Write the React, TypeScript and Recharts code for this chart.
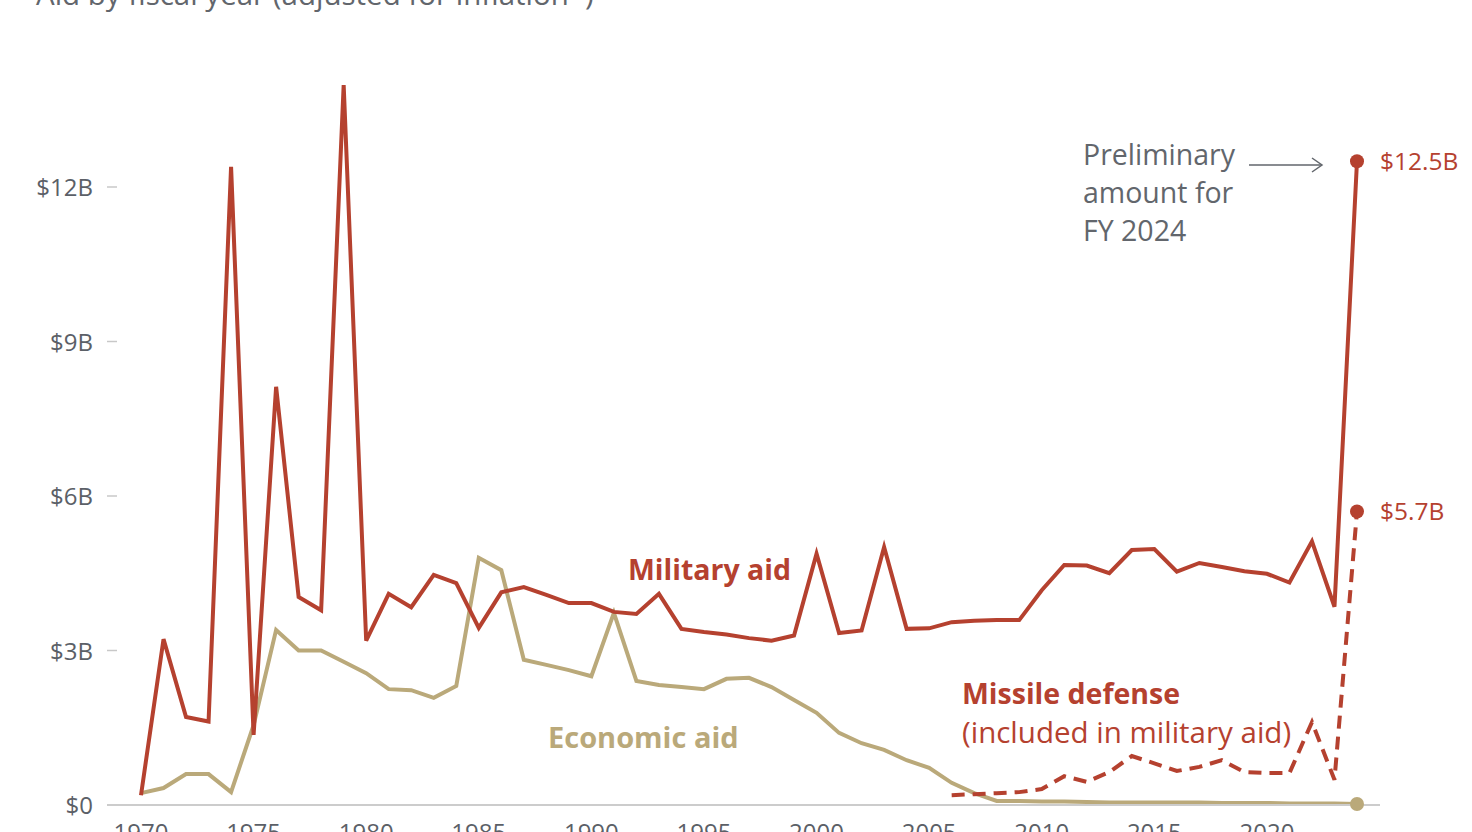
import React from "react";
import { LineChart, Line, XAxis, YAxis } from "recharts";

const years = [
  1970, 1971, 1972, 1973, 1974, 1975, 1976, 1977, 1978, 1979,
  1980, 1981, 1982, 1983, 1984, 1985, 1986, 1987, 1988, 1989,
  1990, 1991, 1992, 1993, 1994, 1995, 1996, 1997, 1998, 1999,
  2000, 2001, 2002, 2003, 2004, 2005, 2006, 2007, 2008, 2009,
  2010, 2011, 2012, 2013, 2014, 2015, 2016, 2017, 2018, 2019,
  2020, 2021, 2022, 2023, 2024,
];

// billions of dollars, inflation adjusted
const military = [
  0.19, 3.22, 1.71, 1.62, 12.39, 1.36, 8.12, 4.04, 3.78, 13.98,
  3.19, 4.1, 3.84, 4.47, 4.31, 3.44, 4.13, 4.23, 4.08, 3.92,
  3.92, 3.75, 3.71, 4.1, 3.42, 3.36, 3.31, 3.24, 3.19, 3.29,
  4.88, 3.34, 3.39, 5.01, 3.42, 3.43, 3.55, 3.58, 3.59, 3.59,
  4.17, 4.66, 4.65, 4.5, 4.95, 4.97, 4.53, 4.7, 4.62, 4.54,
  4.49, 4.32, 5.12, 3.85, 12.5,
];

const economic = [
  0.23, 0.33, 0.6, 0.6, 0.25, 1.55, 3.4, 3.0, 3.0, 2.78,
  2.56, 2.25, 2.23, 2.08, 2.31, 4.8, 4.56, 2.82, 2.72, 2.62,
  2.5, 3.73, 2.41, 2.33, 2.29, 2.25, 2.45, 2.47, 2.29, 2.04,
  1.79, 1.4, 1.2, 1.07, 0.87, 0.72, 0.43, 0.23, 0.08, 0.08,
  0.07, 0.07, 0.06, 0.05, 0.05, 0.05, 0.05, 0.05, 0.04, 0.04,
  0.04, 0.03, 0.03, 0.03, 0.02,
];

const missile = [
  null, null, null, null, null, null, null, null, null, null,
  null, null, null, null, null, null, null, null, null, null,
  null, null, null, null, null, null, null, null, null, null,
  null, null, null, null, null, null, 0.19, 0.21, 0.23, 0.25,
  0.31, 0.56, 0.45, 0.64, 0.95, 0.81, 0.66, 0.74, 0.87, 0.64,
  0.62, 0.62, 1.61, 0.49, 5.7,
];

const xTicks = [1970, 1975, 1980, 1985, 1990, 1995, 2000, 2005, 2010, 2015, 2020];
const yTicks = [0, 3, 6, 9, 12];
const yLabels = ["$0", "$3B", "$6B", "$9B", "$12B"];

const RED = "#b5412f";
const GOLD = "#baa97a";
const GRAY = "#5b6067";
const NOTE = "#62666c";
const FONT = "'Open Sans', Lato, sans-serif";

const data = years.map((year, i) => ({
  year,
  military: military[i],
  economic: economic[i],
  missile: missile[i],
}));

const lastYear = years[years.length - 1];

const endDot = (color: string, label?: string) => (props: any) => {
  const { cx, cy, payload, index } = props;
  if (payload.year !== lastYear) return <g key={index} />;
  return (
    <g key={index}>
      <circle cx={cx} cy={cy} r={7} fill={color} />
      {label && (
        <text x={cx + 23} y={cy + 9} fill={color} fontSize={24.5} fontFamily={FONT}>
          {label}
        </text>
      )}
    </g>
  );
};

const YTick = (props: any) => {
  const { x, y, payload } = props;
  const i = yTicks.indexOf(payload.value);
  return (
    <g>
      <text x={x} y={y + 9} textAnchor="end" fill={GRAY} fontSize={24} fontFamily={FONT}>
        {yLabels[i]}
      </text>
      {payload.value !== 0 && (
        <line x1={x + 14} x2={x + 24} y1={y} y2={y} stroke="#c8c8c8" strokeWidth={1.5} />
      )}
    </g>
  );
};

const XTick = (props: any) => {
  const { x, y, payload } = props;
  return (
    <text x={x} y={y + 36} textAnchor="middle" fill={GRAY} fontSize={24} fontFamily={FONT}>
      {payload.value}
    </text>
  );
};

export default function App() {
  return (
    <div
      style={{
        position: "absolute",
        left: 0,
        top: 0,
        width: 1472,
        height: 832,
        overflow: "hidden",
        background: "#fff",
        fontFamily: FONT,
      }}
    >
      <LineChart
        width={1472}
        height={832}
        data={data}
        margin={{ top: 84, right: 92, bottom: 0, left: 7 }}
      >
        <XAxis
          dataKey="year"
          type="number"
          domain={[1970, 2024]}
          ticks={xTicks}
          padding={{ left: 34, right: 23 }}
          height={27}
          tickSize={0}
          tickMargin={0}
          tickLine={false}
          axisLine={{ stroke: "#cccccc", strokeWidth: 2 }}
          tick={<XTick />}
          interval={0}
        />
        <YAxis
          type="number"
          domain={[0, 14]}
          ticks={yTicks}
          width={100}
          tickSize={0}
          tickMargin={14}
          tickLine={false}
          axisLine={false}
          tick={<YTick />}
          interval={0}
        />
        <Line
          dataKey="economic"
          stroke={GOLD}
          strokeWidth={4}
          dot={endDot(GOLD)}
          isAnimationActive={false}
        />
        <Line
          dataKey="missile"
          stroke={RED}
          strokeWidth={4}
          strokeDasharray="13 8"
          dot={endDot(RED, "$5.7B")}
          connectNulls={false}
          isAnimationActive={false}
        />
        <Line
          dataKey="military"
          stroke={RED}
          strokeWidth={4}
          dot={endDot(RED, "$12.5B")}
          isAnimationActive={false}
        />
      </LineChart>
      <svg
        width={1472}
        height={832}
        style={{ position: "absolute", left: 0, top: 0, pointerEvents: "none" }}
        fontFamily={FONT}
      >
        <text x={36} y={5} fill={NOTE} fontSize={29.5}>
          Aid by fiscal year (adjusted for inflation*)
        </text>
        <text x={628} y={580} fill={RED} fontSize={28.5} fontWeight={700}>
          Military aid
        </text>
        <text x={548} y={748} fill={GOLD} fontSize={29} fontWeight={700}>
          Economic aid
        </text>
        <text x={962} y={704} fill={RED} fontSize={28.5} fontWeight={700}>
          Missile defense
        </text>
        <text x={962} y={743} fill={RED} fontSize={29.5}>
          (included in military aid)
        </text>
        <text fill={NOTE} fontSize={28.5}>
          <tspan x={1083} y={165}>Preliminary</tspan>
          <tspan x={1083} y={203}>amount for</tspan>
          <tspan x={1083} y={241}>FY 2024</tspan>
        </text>
        <line x1={1249} x2={1322} y1={165} y2={165} stroke={NOTE} strokeWidth={1.5} />
        <polyline
          points="1312,158 1322,165 1312,172"
          fill="none"
          stroke={NOTE}
          strokeWidth={1.5}
        />
      </svg>
    </div>
  );
}
